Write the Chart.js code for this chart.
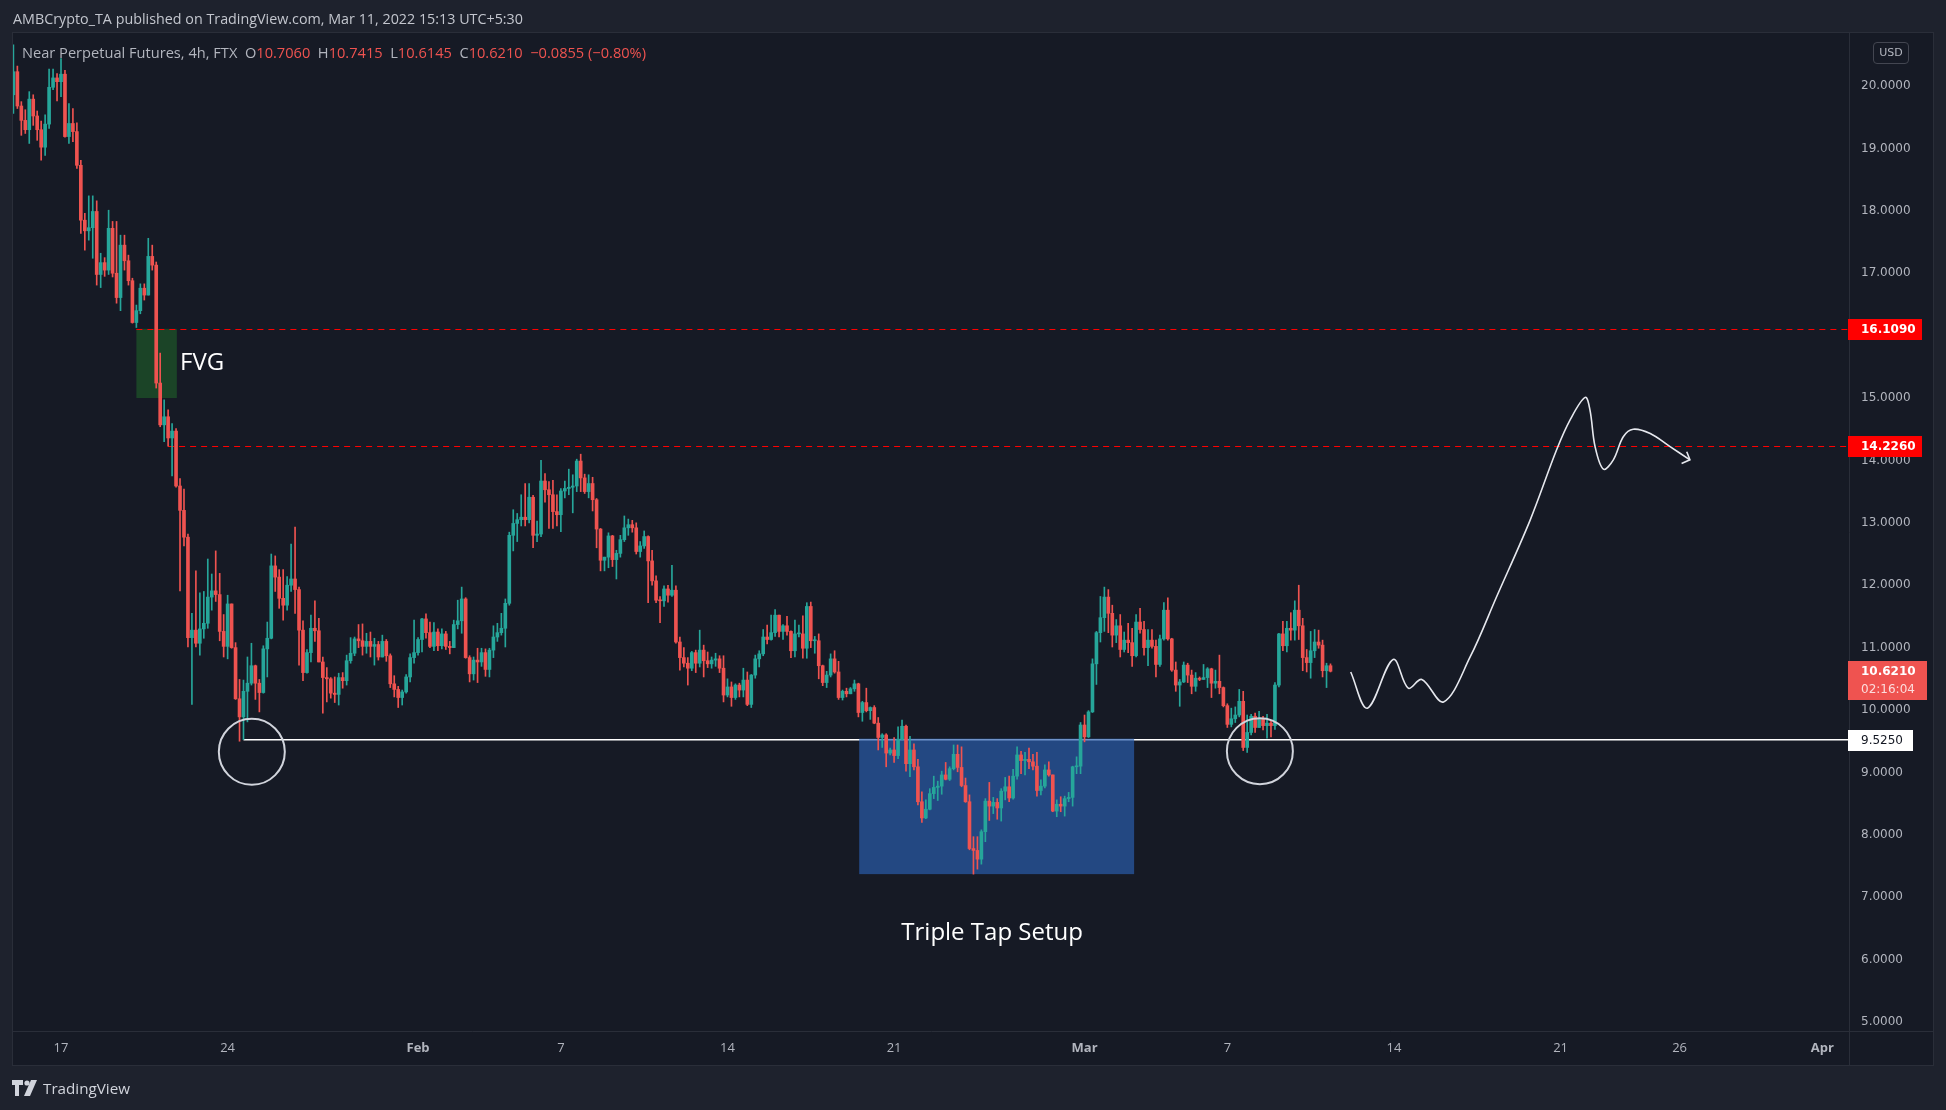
<!DOCTYPE html>
<html>
<head>
<meta charset="utf-8">
<script src="https://cdn.jsdelivr.net/npm/chart.js@4.4.0/dist/chart.umd.min.js"></script>
<style>
    html, body { margin: 0; padding: 0; width: 1946px; height: 1110px; overflow: hidden; background: #1e222d; font-family: 'Open Sans', sans-serif; }
    #pane { position: absolute; left: 12px; top: 32px; width: 1920px; height: 1032px; border: 1px solid #2a2e39; background: #161a25; }
    #wrap { position: absolute; left: 0; top: 0; width: 1946px; height: 1110px; }
    .sep { position: absolute; background: #2a2e39; }
    .fit { position: absolute; white-space: nowrap; transform-origin: 0 50%; }
    #head { left: 13px; top: 8px; font-size: 15px; color: #c3c6ce; }
    #legend { left: 22px; top: 43px; font-size: 14.5px; color: #b2b5be; }
    #legend .v { color: #ef5350; }
    #usd { position: absolute; left: 1873px; top: 42px; width: 34px; height: 20px; border: 1px solid #434651; border-radius: 4px; color: #b2b5be; font: 11px 'DejaVu Sans', sans-serif; text-align: center; line-height: 20px; }
    #brand { position: absolute; left: 12px; top: 1078px; display: flex; align-items: center; gap: 5px; }
    #brand span { font-size: 15px; color: #d1d4dc; white-space: nowrap; transform-origin: 0 50%; display: inline-block; }
</style>
</head>
<body>
<div id="pane"></div>
<div class="sep" style="left:1849px;top:1031px;width:1px;height:34px"></div>
<div class="sep" style="left:1849px;top:1031px;width:84px;height:1px"></div>
<div id="wrap"><canvas id="chart" width="1946" height="1110"></canvas></div>
<div id="head" class="fit">AMBCrypto_TA published on TradingView.com, Mar 11, 2022 15:13 UTC+5:30</div>
<div id="legend" class="fit">Near Perpetual Futures, 4h, FTX&nbsp; O<span class="v">10.7060</span>&nbsp; H<span class="v">10.7415</span>&nbsp; L<span class="v">10.6145</span>&nbsp; C<span class="v">10.6210</span>&nbsp; <span class="v">−0.0855 (−0.80%)</span></div>
<div id="usd">USD</div>
<div id="brand">
    <svg width="26" height="16" viewBox="0 0 26 16"><path d="M0 0h11v5H7v11H3V5H0z" fill="#d1d4dc"/><circle cx="15" cy="3" r="2.6" fill="#d1d4dc"/><path d="M19 0h6l-7 16h-6z" fill="#d1d4dc"/></svg>
    <span id="brandText">TradingView</span>
</div>
<script>
// candles are 4h apart; x value = candle number counted from Jan 17 00:00
const firstCandle = -12;
const firstOpen = 19.86;

const closes = [
    20.23, 19.68, 19.45, 19.30, 19.79, 19.52, 19.30, 19.02, 19.39, 19.98, 20.13, 20.07, 20.19, 19.19, 19.40, 19.27, 18.73, 17.85, 17.68, 17.73,
    17.99, 16.98, 17.17, 17.05, 17.72, 17.00, 16.61, 17.45, 17.20, 16.88, 16.21, 16.40, 16.76, 16.65, 17.27, 17.13, 15.24, 14.57,
    14.70, 14.36, 14.47, 13.59, 13.20, 12.77, 11.16, 11.28, 11.07, 11.30, 11.39, 11.81, 11.91, 11.85, 11.26, 11.02, 11.70, 11.00, 10.18, 9.89,
    10.30, 10.43, 10.71, 10.43, 10.28, 10.98, 11.15,
    12.31, 12.13, 11.79, 11.68, 12.00, 12.10, 11.93, 11.28, 10.60, 10.92, 11.31, 11.27, 10.77, 10.52, 10.50, 10.27, 10.25, 10.52, 10.47, 10.79,
    10.91, 11.14, 11.11, 11.02, 11.10, 11.02, 11.05, 10.85, 11.10, 10.87, 10.42, 10.33, 10.20, 10.29, 10.53, 10.84, 10.92, 11.13, 11.46, 11.24,
    11.02, 11.25, 11.03, 11.22, 11.02, 11.00, 11.37, 11.43, 11.78, 10.84, 10.58, 10.80, 10.77, 10.92, 10.65, 10.96, 11.17, 11.24, 11.31, 11.71,
    12.80, 12.99, 13.05, 13.09, 13.05, 13.41, 12.80, 12.82, 13.67, 13.53, 13.45, 13.18, 13.13, 13.51, 13.55, 13.57, 13.59, 13.99, 13.72, 13.50,
    13.63, 13.37, 12.90, 12.40, 12.45, 12.79, 12.41, 12.51, 12.73, 12.92, 12.97, 12.92, 12.54,
    12.63, 12.78, 12.39, 12.07, 11.76, 11.75, 11.94, 11.84, 11.92, 11.09, 10.84, 10.75, 10.67, 10.92, 10.75, 10.96, 10.79, 10.74, 10.80, 10.82,
    10.67, 10.24, 10.37, 10.20, 10.40, 10.32, 10.48, 10.09, 10.56, 10.82, 10.90, 11.17, 11.13, 11.24, 11.52, 11.26, 11.35, 11.26, 10.95, 11.22,
    11.22, 10.99, 11.66, 11.11, 11.11, 10.71, 10.44, 10.56, 10.82, 10.61, 10.20, 10.30, 10.26, 10.34, 10.42, 9.96, 10.12, 9.99, 10.04, 9.79,
    9.56, 9.60, 9.31, 9.36, 9.27, 9.53, 9.74, 9.14, 9.36, 9.09, 8.53, 8.27, 8.41, 8.66, 8.76, 8.78, 8.96, 8.89, 9.06, 9.29,
    9.08, 8.79, 8.53, 7.78, 7.75, 7.61, 8.05, 8.54, 8.46, 8.52, 8.43, 8.70, 8.77, 8.59, 8.94, 9.28, 9.19, 9.21, 9.17, 9.10,
    8.71, 8.78, 9.04, 8.96, 8.38, 8.49, 8.46, 8.58, 8.60, 9.09, 9.10,
    9.76, 9.57, 9.97, 10.74, 11.24, 11.48, 11.81, 11.55, 11.20, 11.35, 10.97, 11.12, 11.08, 10.87, 11.41, 11.29, 11.00, 11.12, 11.02, 10.73,
    11.14, 11.60, 11.14, 10.64, 10.40, 10.45, 10.72, 10.56, 10.38, 10.51, 10.49, 10.52, 10.66, 10.43, 10.46, 10.36, 10.07, 9.77, 9.86, 9.92,
    10.14, 9.40, 9.64, 9.90, 9.72, 9.86, 9.75, 9.79, 9.75, 10.40, 11.22, 11.03, 11.31, 11.28, 11.60, 11.35, 10.84, 10.76, 10.95, 11.09,
    11.04, 10.63, 10.71, 10.621
];

const highs = [
    20.66, 20.32, 19.75, 19.62, 19.91, 19.86, 19.60, 19.44, 19.54, 20.27, 20.27, 20.20, 20.44, 20.25, 19.72, 19.64, 19.41, 18.81, 17.96, 18.24,
    18.24, 18.16, 17.32, 17.25, 18.01, 17.83, 17.83, 17.61, 17.61, 17.29, 16.92, 16.49, 16.83, 16.83, 17.56, 17.45, 17.18, 15.72,
    14.97, 14.81, 14.59, 14.51, 13.71, 13.54, 12.82, 11.55, 12.23, 11.88, 11.90, 12.42, 12.18, 12.55, 12.19, 11.53, 11.84, 11.70, 11.08, 10.49,
    10.48, 10.85, 11.07, 10.72, 10.49, 11.03, 11.41,
    12.50, 12.47, 12.25, 12.25, 12.14, 12.66, 12.93, 11.97, 11.43, 10.97, 11.52, 11.75, 11.47, 10.85, 10.68, 10.52, 10.53, 10.59, 10.60, 10.88,
    11.16, 11.17, 11.37, 11.38, 11.23, 11.25, 11.15, 11.10, 11.20, 11.13, 10.90, 10.55, 10.38, 10.32, 10.57, 10.90, 11.44, 11.16, 11.47, 11.54,
    11.41, 11.40, 11.30, 11.30, 11.26, 11.10, 11.44, 11.76, 11.97, 11.80, 10.87, 10.85, 10.99, 10.99, 10.98, 10.99, 11.35, 11.39, 11.55, 11.78,
    12.85, 13.21, 13.15, 13.45, 13.63, 13.63, 13.44, 13.03, 14.00, 13.79, 13.66, 13.68, 13.45, 13.55, 13.67, 13.86, 13.77, 14.02, 14.10, 13.78,
    13.77, 13.73, 13.39, 12.91, 12.45, 12.84, 12.80, 12.56, 12.80, 13.11, 13.06, 13.04, 13.00,
    12.70, 12.87, 12.79, 12.56, 12.15, 11.82, 11.99, 12.00, 12.32, 11.99, 11.17, 11.00, 10.84, 10.94, 10.96, 11.28, 11.04, 10.93, 10.85, 10.91,
    10.87, 10.87, 10.50, 10.45, 10.42, 10.43, 10.67, 10.61, 10.57, 10.88, 10.95, 11.29, 11.36, 11.52, 11.61, 11.52, 11.37, 11.50, 11.27, 11.44,
    11.36, 11.51, 11.72, 11.73, 11.18, 11.22, 10.72, 10.62, 10.90, 10.95, 10.78, 10.32, 10.35, 10.36, 10.48, 10.43, 10.14, 10.35, 10.05, 10.07,
    9.88, 9.62, 9.62, 9.39, 9.56, 9.73, 9.84, 9.76, 9.58, 9.46, 9.21, 8.69, 8.56, 8.74, 8.94, 8.86, 9.02, 9.16, 9.09, 9.44,
    9.44, 9.41, 8.91, 8.64, 7.97, 7.97, 8.08, 8.58, 8.84, 8.60, 8.58, 8.74, 8.92, 8.94, 9.05, 9.41, 9.34, 9.32, 9.39, 9.29,
    9.32, 8.88, 9.12, 9.17, 8.96, 8.56, 8.61, 8.62, 8.68, 9.10, 9.25,
    9.80, 9.92, 9.99, 10.82, 11.26, 11.82, 11.97, 11.93, 11.68, 11.45, 11.53, 11.25, 11.39, 11.31, 11.53, 11.63, 11.42, 11.29, 11.29, 11.12,
    11.20, 11.72, 11.80, 11.15, 10.77, 10.49, 10.77, 10.75, 10.64, 10.60, 10.53, 10.73, 10.68, 10.67, 10.64, 10.88, 10.37, 10.10, 10.03, 10.05,
    10.33, 10.30, 9.92, 9.93, 9.95, 9.98, 9.90, 9.93, 9.82, 10.44, 11.23, 11.42, 11.42, 11.56, 11.75, 12.00, 11.47, 10.97, 11.26, 11.29,
    11.28, 11.12, 10.75, 10.74
];

const lows = [
    19.56, 19.64, 19.21, 19.24, 19.08, 19.37, 19.13, 18.81, 18.89, 19.32, 19.94, 19.76, 19.83, 19.18, 19.08, 19.11, 18.68, 17.64, 17.37, 17.53,
    17.24, 16.81, 16.77, 16.95, 16.98, 16.94, 16.52, 16.40, 17.05, 16.81, 16.20, 16.13, 16.35, 16.57, 16.65, 17.05, 15.16, 14.54,
    14.30, 14.23, 13.75, 13.57, 11.91, 12.63, 11.01, 10.09, 11.01, 10.88, 11.15, 11.31, 11.60, 11.74, 11.11, 10.85, 10.82, 10.99, 10.17, 9.50,
    9.525, 9.81, 10.40, 10.17, 9.97, 10.27, 10.53,
    11.14, 11.90, 11.63, 11.44, 11.60, 11.90, 11.55, 10.72, 10.47, 10.59, 10.77, 11.10, 10.77, 9.95, 10.13, 10.19, 10.12, 10.08, 10.35, 10.40,
    10.75, 10.87, 11.00, 10.88, 10.91, 10.85, 10.72, 10.80, 10.85, 10.78, 10.36, 10.21, 10.04, 10.08, 10.27, 10.45, 10.75, 10.88, 10.93, 11.15,
    11.00, 10.95, 10.95, 10.98, 10.97, 10.90, 11.00, 11.30, 11.23, 10.83, 10.45, 10.48, 10.44, 10.70, 10.54, 10.53, 10.84, 11.10, 11.20, 11.01,
    11.68, 12.55, 12.70, 12.95, 12.95, 13.00, 12.60, 12.70, 12.78, 13.33, 12.91, 12.91, 12.95, 12.86, 13.40, 13.45, 13.16, 13.50, 13.50, 13.47,
    13.40, 13.19, 12.60, 12.23, 12.23, 12.28, 12.30, 12.10, 12.45, 12.70, 12.80, 12.85, 12.50,
    12.45, 12.59, 11.72, 12.00, 11.72, 11.40, 11.66, 11.73, 11.82, 11.07, 10.64, 10.69, 10.40, 10.63, 10.60, 10.69, 10.53, 10.68, 10.67, 10.70,
    10.60, 10.13, 10.21, 10.06, 10.17, 10.21, 10.21, 10.07, 10.04, 10.51, 10.69, 10.87, 11.06, 11.12, 11.18, 11.17, 11.13, 11.20, 10.84, 10.85,
    11.17, 10.83, 10.83, 11.00, 10.91, 10.50, 10.39, 10.36, 10.53, 10.59, 10.17, 10.16, 10.21, 10.26, 10.30, 9.89, 9.82, 9.97, 9.85, 9.78,
    9.36, 9.40, 9.09, 9.28, 9.16, 9.22, 9.52, 9.02, 8.93, 9.04, 8.48, 8.20, 8.26, 8.40, 8.58, 8.55, 8.65, 8.88, 8.87, 9.04,
    9.01, 8.77, 8.52, 7.76, 7.37, 7.45, 7.53, 7.89, 8.23, 8.34, 8.25, 8.22, 8.56, 8.53, 8.57, 8.89, 8.98, 8.96, 9.06, 9.04,
    8.62, 8.64, 8.75, 8.94, 8.37, 8.29, 8.37, 8.30, 8.53, 8.46, 8.98,
    8.98, 9.49, 9.56, 9.96, 10.41, 11.09, 11.26, 11.24, 11.01, 11.08, 10.85, 10.93, 10.92, 10.70, 10.85, 11.23, 10.88, 10.71, 10.99, 10.53,
    10.70, 11.12, 11.12, 10.62, 10.30, 10.06, 10.44, 10.44, 10.26, 10.30, 10.47, 10.49, 10.36, 10.20, 10.35, 10.26, 10.05, 9.72, 9.73, 9.80,
    9.89, 9.35, 9.32, 9.60, 9.64, 9.72, 9.68, 9.55, 9.57, 9.69, 10.37, 10.95, 10.93, 11.12, 11.12, 11.13, 10.63, 10.61, 10.51, 10.84,
    10.99, 10.53, 10.36, 10.61
];

// axes
const xTickPos = [0, 42, 90, 126, 168, 210, 258, 294, 336, 378, 408, 444];
const xTickLabels = ['17', '24', 'Feb', '7', '14', '21', 'Mar', '7', '14', '21', '26', 'Apr'];
const monthLabels = ['Feb', 'Mar', 'Apr'];
const yTicks = [5, 6, 7, 8, 9, 10, 11, 12, 13, 14, 15, 16, 17, 18, 19, 20];

// drawings (candle number, price)
const fvgX = [19, 29.2];
const fvgY = [15.0, 16.109];
const setupX = [201.2, 270.5];
const setupY = [7.37, 9.525];
const levelPrices = [16.109, 14.226];
const levelStarts = [19, 27];
const supportLevel = 9.525;
const supportStart = 46;
const lastPrice = 10.621;
const circleX = [48.1, 302.2];
const circleY = [9.33, 9.34];
const pathX = [325.1, 329.3, 335.8, 339.6, 343.0, 348.5, 355.2, 361.9, 370.3, 377.0, 380.4, 384.2, 385.4, 386.7, 388.8, 391.3, 393.8, 396.3, 400.6, 405.6, 410.6];
const pathY = [10.61, 10.03, 10.81, 10.35, 10.49, 10.13, 10.85, 11.82, 13.04, 14.17, 14.65, 15.01, 14.81, 14.22, 13.86, 14.01, 14.38, 14.50, 14.43, 14.22, 14.01];
const arrowX = [409.8, 410.6, 408.5];
const arrowY = [14.14, 14.01, 13.95];

const UP = '#26a69a', DOWN = '#ef5350';
const opens = closes.map((c, k) => k === 0 ? firstOpen : closes[k - 1]);
const candleColors = closes.map((c, k) => c >= opens[k] ? UP : DOWN);

function fitText(id, width) {
    const el = document.getElementById(id);
    const w = el.getBoundingClientRect().width;
    el.style.transform = `scaleX(${width / w})`;
}
fitText('head', 510);
fitText('legend', 624);
fitText('brandText', 87);

const overlay = {
    id: 'overlay',
    beforeDatasetsDraw(chart) {
        const { ctx, chartArea: a, scales: { x, y } } = chart;
        ctx.save();
        ctx.beginPath();
        ctx.rect(a.left, a.top, a.right - a.left, a.bottom - a.top);
        ctx.clip();

        // FVG zone
        ctx.fillStyle = '#1b4427';
        ctx.fillRect(x.getPixelForValue(fvgX[0]), y.getPixelForValue(fvgY[1]),
            x.getPixelForValue(fvgX[1]) - x.getPixelForValue(fvgX[0]), y.getPixelForValue(fvgY[0]) - y.getPixelForValue(fvgY[1]));

        // red dashed levels
        ctx.strokeStyle = '#ff0000';
        ctx.lineWidth = 1;
        ctx.setLineDash([6, 5]);
        levelPrices.forEach((p, k) => {
            const py = Math.round(y.getPixelForValue(p)) + 0.5;
            ctx.beginPath();
            ctx.moveTo(x.getPixelForValue(levelStarts[k]), py);
            ctx.lineTo(a.right, py);
            ctx.stroke();
        });
        ctx.setLineDash([]);

        // support line
        const sy = y.getPixelForValue(supportLevel);
        ctx.strokeStyle = '#ffffff';
        ctx.lineWidth = 1.5;
        ctx.beginPath();
        ctx.moveTo(x.getPixelForValue(supportStart), sy);
        ctx.lineTo(a.right, sy);
        ctx.stroke();

        // triple tap zone (over the line, under candles)
        ctx.fillStyle = 'rgba(41,94,176,0.68)';
        ctx.fillRect(x.getPixelForValue(setupX[0]), y.getPixelForValue(setupY[1]) - 1,
            x.getPixelForValue(setupX[1]) - x.getPixelForValue(setupX[0]), y.getPixelForValue(setupY[0]) - y.getPixelForValue(setupY[1]) + 1);
        ctx.restore();
    },
    afterDatasetsDraw(chart) {
        const { ctx, scales: { x, y } } = chart;
        ctx.save();
        ctx.strokeStyle = '#d1d4dc';
        ctx.lineWidth = 2;
        circleX.forEach((cx, k) => {
            ctx.beginPath();
            ctx.arc(x.getPixelForValue(cx), y.getPixelForValue(circleY[k]), 33, 0, Math.PI * 2);
            ctx.stroke();
        });

        ctx.fillStyle = '#ffffff';
        ctx.font = '24px "Open Sans"';
        ctx.textBaseline = 'middle';
        ctx.textAlign = 'left';
        ctx.fillText('FVG', x.getPixelForValue(30), y.getPixelForValue(15.56));
        ctx.textAlign = 'center';
        ctx.fillText('Triple Tap Setup', x.getPixelForValue(234.7), y.getPixelForValue(6.43));
        ctx.restore();
    },
    afterDraw(chart) {
        const { ctx, chartArea: a, scales: { y } } = chart;
        const tag = (price, w, h, bg, lines) => {
            const py = Math.round(y.getPixelForValue(price));
            ctx.fillStyle = bg;
            ctx.fillRect(a.right - 1, py - 10, w, h);
            ctx.textAlign = 'left';
            ctx.textBaseline = 'middle';
            lines.forEach(([text, color, font], k) => {
                ctx.fillStyle = color;
                ctx.font = font;
                ctx.fillText(text, a.right + 12, py + 0.5 + k * 18);
            });
        };
        ctx.save();
        levelPrices.forEach(p => tag(p, 74, 21, '#ff0000', [[p.toFixed(4), '#ffffff', 'bold 12px "DejaVu Sans"']]));
        tag(lastPrice, 79, 39, '#ef5350', [
            [lastPrice.toFixed(4), '#ffffff', 'bold 12px "DejaVu Sans"'],
            ['02:16:04', 'rgba(255,255,255,0.8)', '12px "DejaVu Sans"']
        ]);
        tag(supportLevel, 65, 21, '#ffffff', [[supportLevel.toFixed(4), '#131722', '12px "DejaVu Sans"']]);
        ctx.restore();
    }
};

new Chart(document.getElementById('chart'), {
    type: 'bar',
    data: {
        datasets: [
            {
                type: 'line',
                data: pathX.map((v, k) => ({ x: v, y: pathY[k] })),
                borderColor: '#e6e8ee', borderWidth: 1.6, pointRadius: 0, tension: 0.35, fill: false, order: 0
            },
            {
                type: 'line',
                data: arrowX.map((v, k) => ({ x: v, y: arrowY[k] })),
                borderColor: '#e6e8ee', borderWidth: 1.6, pointRadius: 0, tension: 0, fill: false, order: 0
            },
            {
                data: closes.map((c, k) => ({ x: firstCandle + k, y: [opens[k], c] })),
                backgroundColor: candleColors, barThickness: 3, minBarLength: 1, grouped: false, order: 1
            },
            {
                data: closes.map((c, k) => ({ x: firstCandle + k, y: [lows[k], highs[k]] })),
                backgroundColor: candleColors, barThickness: 1, grouped: false, order: 2
            }
        ]
    },
    options: {
        responsive: false,
        animation: false,
        devicePixelRatio: 1,
        events: [],
        layout: { padding: { left: 13, top: 33, right: 13, bottom: 45 } },
        plugins: { legend: { display: false }, tooltip: { enabled: false } },
        scales: {
            x: {
                type: 'linear', offset: false, min: -12.1, max: 450.7,
                grid: { display: false, drawTicks: false },
                border: { display: true, color: '#2a2e39' },
                afterBuildTicks: s => { s.ticks = xTickPos.map(v => ({ value: v })); },
                afterFit: s => { s.height = 34; },
                ticks: {
                    autoSkip: false, maxRotation: 0, padding: 9, color: '#b2b5be',
                    callback: (v, k) => xTickLabels[k],
                    font: c => ({ family: 'Open Sans', size: 13, weight: monthLabels.includes(xTickLabels[c.index]) ? 'bold' : 'normal' })
                }
            },
            y: {
                position: 'right', min: 4.856, max: 20.85,
                grid: { display: false, drawTicks: false },
                border: { display: true, color: '#2a2e39' },
                afterBuildTicks: s => { s.ticks = yTicks.map(v => ({ value: v })); },
                afterFit: s => { s.width = 84; },
                ticks: {
                    padding: 12, color: '#b2b5be',
                    font: { family: 'DejaVu Sans', size: 12 },
                    callback: v => v.toFixed(4)
                }
            }
        }
    },
    plugins: [overlay]
});
</script>
</body>
</html>
